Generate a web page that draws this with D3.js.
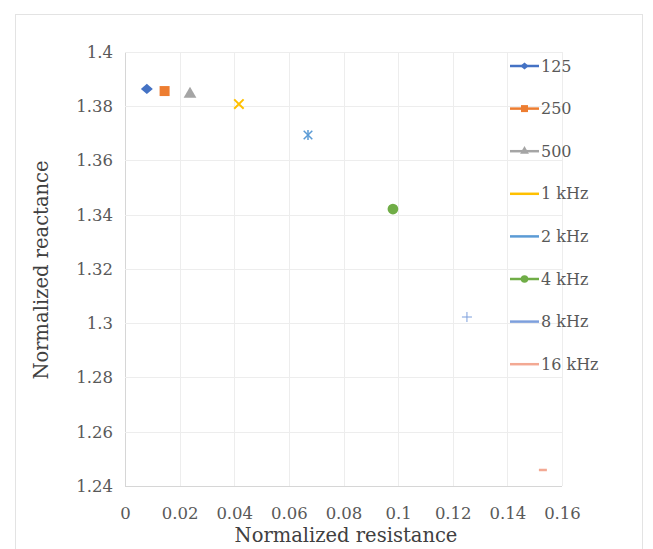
<!DOCTYPE html>
<html>
<head>
<meta charset="utf-8">
<script src="https://cdn.jsdelivr.net/npm/d3@7"></script>
<style>
  body { margin: 0; background: #fff; }
  svg text { font-family: "DejaVu Serif", "Liberation Serif", serif; }
</style>
</head>
<body>
<svg id="chart" width="653" height="549"></svg>
<script>
// series, one point each (normalized resistance, normalized reactance)
var seriesNames = ['125', '250', '500', '1 kHz', '2 kHz', '4 kHz', '8 kHz', '16 kHz'];
var resistance = [0.008, 0.0145, 0.0238, 0.0417, 0.067, 0.0981, 0.1252, 0.153];
var reactance = [1.3864, 1.3856, 1.3845, 1.3808, 1.3694, 1.3421, 1.3023, 1.2459];
var seriesColors = ['#4472c4', '#ed7d31', '#a5a5a5', '#ffc000', '#5b9bd5', '#70ad47', '#7d9fdc', '#f3a993'];
var seriesSymbols = ['diamond', 'square', 'triangle', 'cross', 'asterisk', 'circle', 'plus', 'dash'];
var xTicks = [0, 0.02, 0.04, 0.06, 0.08, 0.1, 0.12, 0.14, 0.16];
var yTicks = [1.24, 1.26, 1.28, 1.3, 1.32, 1.34, 1.36, 1.38, 1.4];

(function() {
  var svg = d3.select('#chart');

  // outer chart frame
  svg.append('rect')
    .attr('x', 15.5).attr('y', 14.5)
    .attr('width', 627).attr('height', 540)
    .attr('fill', 'none')
    .attr('stroke', '#e3e3e3');

  var plotLeft = 125, plotRight = 562, plotTop = 52, plotBottom = 486;

  var x = d3.scaleLinear().domain([0, 0.16]).range([plotLeft, plotRight]);
  var y = d3.scaleLinear().domain([1.24, 1.4]).range([plotBottom, plotTop]);

  var grid = svg.append('g');

  grid.selectAll('.vline')
    .data(xTicks)
    .enter()
    .append('line')
    .attr('x1', function(d) { return Math.round(x(d)) + 0.5; })
    .attr('x2', function(d) { return Math.round(x(d)) + 0.5; })
    .attr('y1', plotTop)
    .attr('y2', plotBottom)
    .attr('stroke', function(d) { return d === 0 ? '#d6d6d6' : '#ededed'; });

  grid.selectAll('.hline')
    .data(yTicks)
    .enter()
    .append('line')
    .attr('x1', plotLeft)
    .attr('x2', plotRight)
    .attr('y1', function(d) { return Math.round(y(d)) + 0.5; })
    .attr('y2', function(d) { return Math.round(y(d)) + 0.5; })
    .attr('stroke', function(d) { return d === 1.24 ? '#d6d6d6' : '#ededed'; });

  var xAxis = d3.axisBottom(x)
    .tickValues(xTicks)
    .tickSize(0)
    .tickPadding(21)
    .tickFormat(function(d) { return String(+d.toFixed(2)); });

  var yAxis = d3.axisLeft(y)
    .tickValues(yTicks)
    .tickSize(0)
    .tickPadding(12)
    .tickFormat(function(d) { return String(+d.toFixed(2)); });

  svg.append('g')
    .attr('transform', 'translate(0,' + plotBottom + ')')
    .call(xAxis)
    .call(function(g) { g.select('.domain').remove(); })
    .selectAll('text')
    .attr('fill', '#595959')
    .style('font-size', '16.5px')
    .style('font-family', '"DejaVu Serif", serif');

  svg.append('g')
    .attr('transform', 'translate(' + plotLeft + ',0)')
    .call(yAxis)
    .call(function(g) { g.select('.domain').remove(); })
    .selectAll('text')
    .attr('fill', '#595959')
    .style('font-size', '16.5px')
    .style('font-family', '"DejaVu Serif", serif');

  // axis titles
  svg.append('text')
    .attr('x', 346)
    .attr('y', 542)
    .attr('text-anchor', 'middle')
    .attr('fill', '#404040')
    .style('font-size', '19.5px')
    .text('Normalized resistance');

  svg.append('text')
    .attr('transform', 'translate(48,270) rotate(-90)')
    .attr('text-anchor', 'middle')
    .attr('fill', '#404040')
    .style('font-size', '19.5px')
    .text('Normalized reactance');

  function drawSymbol(g, kind, color, s) {
    if (kind === 'diamond') {
      g.append('path').attr('d', d3.symbol(d3.symbolDiamond2, s * s * 0.75)()).attr('fill', color)
        .attr('transform', 'scale(1.1,0.95)');
    } else if (kind === 'square') {
      g.append('path').attr('d', d3.symbol(d3.symbolSquare, s * s)()).attr('fill', color);
    } else if (kind === 'triangle') {
      g.append('path').attr('d', d3.symbol(d3.symbolTriangle, s * s * 0.7)()).attr('fill', color);
    } else if (kind === 'circle') {
      g.append('path').attr('d', d3.symbol(d3.symbolCircle, s * s * 0.9)()).attr('fill', color);
    } else if (kind === 'cross') {
      g.append('path').attr('d', d3.symbol(d3.symbolX, s * s * 0.6)())
        .attr('fill', 'none').attr('stroke', color).attr('stroke-width', 2);
    } else if (kind === 'asterisk') {
      g.append('path').attr('d', d3.symbol(d3.symbolX, s * s * 0.5)())
        .attr('fill', 'none').attr('stroke', color).attr('stroke-width', 1.5);
      g.append('line').attr('x1', 0).attr('x2', 0).attr('y1', -s / 2).attr('y2', s / 2)
        .attr('stroke', color).attr('stroke-width', 1.5);
    } else if (kind === 'plus') {
      g.append('path').attr('d', d3.symbol(d3.symbolPlus, s * s * 0.35)())
        .attr('fill', 'none').attr('stroke', color).attr('stroke-width', 1);
    } else if (kind === 'dash') {
      g.append('line').attr('x1', -s / 2 + 1).attr('x2', s / 2 - 1).attr('y1', 0).attr('y2', 0)
        .attr('stroke', color).attr('stroke-width', 2.5);
    }
  }

  var points = seriesNames.map(function(name, i) {
    return { name: name, x: resistance[i], y: reactance[i], color: seriesColors[i], symbol: seriesSymbols[i] };
  });

  var marks = svg.append('g')
    .selectAll('g')
    .data(points)
    .enter()
    .append('g')
    .attr('transform', function(d) { return 'translate(' + x(d.x) + ',' + y(d.y) + ')'; });

  marks.each(function(d) {
    drawSymbol(d3.select(this), d.symbol, d.color, 10);
  });

  // legend
  var legend = svg.append('g')
    .selectAll('g')
    .data(points)
    .enter()
    .append('g')
    .attr('transform', function(d, i) { return 'translate(510,' + (66 + i * 42.6) + ')'; });

  legend.append('line')
    .attr('x1', 0).attr('x2', 29)
    .attr('stroke', function(d) { return d.color; })
    .attr('stroke-width', 2.5);

  legend.each(function(d) {
    if (['diamond', 'square', 'triangle', 'circle'].indexOf(d.symbol) >= 0) {
      var g = d3.select(this).append('g').attr('transform', 'translate(14.5,0)');
      drawSymbol(g, d.symbol, d.color, 7);
    }
  });

  legend.append('text')
    .attr('x', 31)
    .attr('dy', '0.35em')
    .attr('fill', '#595959')
    .style('font-size', '16px')
    .text(function(d) { return d.name; });
})();
</script>
</body>
</html>
